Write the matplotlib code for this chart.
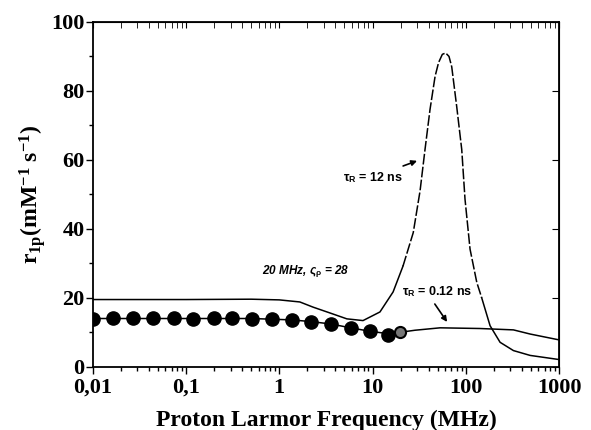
import matplotlib
matplotlib.use("Agg")
import matplotlib.pyplot as plt
from matplotlib.ticker import NullFormatter, MultipleLocator

# measured relaxivities (filled circles, last one open)
freq_pts = [0.01, 0.0165, 0.027, 0.044, 0.075, 0.12, 0.2, 0.31, 0.51, 0.83,
            1.36, 2.2, 3.6, 5.8, 9.4, 14.7]
r1_pts = [14.0, 14.1, 14.1, 14.1, 14.1, 13.9, 14.1, 14.1, 14.0, 13.9,
          13.6, 13.1, 12.4, 11.3, 10.3, 9.3]
freq_open = [19.7]
r1_open = [10.0]

# fitted curve, tau_R = 0.12 ns
freq_fit = [0.01, 0.1, 0.5, 1.36, 2.2, 3.6, 5.8, 9.4, 14.7, 19.7, 28.5, 53, 142, 324, 489, 1000]
r1_fit = [14.0, 14.0, 14.0, 13.6, 13.1, 12.4, 11.3, 10.3, 9.6, 10.0, 10.6, 11.3, 11.1, 10.7, 9.5, 7.8]

# calculated curve, tau_R = 12 ns
freq_12 = [0.01, 0.1, 0.5, 1.0, 1.66, 2.3, 3.5, 5.3, 7.9, 12, 16.6, 21.2, 27.3, 32.3,
           36.5, 41.3, 46.8, 51, 56, 60.8, 66, 70.6, 79.8, 90.4, 98, 111, 131, 148, 182,
           233, 324, 489, 1000]
r1_12 = [19.5, 19.5, 19.6, 19.4, 18.8, 17.3, 15.6, 13.9, 13.4, 15.9, 21.7, 29.2, 38.9, 51,
         63, 74.6, 84.2, 88.2, 90.6, 91, 90, 87, 75.5, 63, 48.6, 34.1, 24.5, 20, 11.9,
         7.1, 4.7, 3.3, 2.1]

plt.rcParams['mathtext.fontset'] = 'custom'
plt.rcParams['mathtext.rm'] = 'Liberation Serif:bold'
plt.rcParams['mathtext.bf'] = 'Liberation Serif:bold'
plt.rcParams['mathtext.it'] = 'Liberation Serif:italic:bold'
plt.rcParams['mathtext.sf'] = 'Liberation Sans:bold'

fig = plt.figure(figsize=(5.91, 4.30), dpi=100)
ax = fig.add_axes([0.157, 0.147, 0.789, 0.802])

# 12 ns curve: solid on the flat parts, dashed across the peak (as in the scan)
a, b = 11, 27
ax.plot(freq_12[:a + 1], r1_12[:a + 1], color='black', lw=1.1)
ax.plot(freq_12[a:b + 1], r1_12[a:b + 1], color='black', lw=1.1, dashes=(7, 1.5))
ax.plot(freq_12[b:], r1_12[b:], color='black', lw=1.1)
ax.plot(freq_fit, r1_fit, color='black', lw=1.1)
ax.plot(freq_pts, r1_pts, 'o', color='black', ms=9.5)
ax.plot(freq_open, r1_open, 'o', mfc='#777777', mec='black', mew=1.5, ms=8)

ax.set_xscale('log')
ax.set_xlim(0.01, 1000)
ax.set_ylim(0, 100)

serif = {'family': 'Liberation Serif', 'weight': 'bold'}
ax.set_xticks([0.01, 0.1, 1, 10, 100, 1000])
ax.set_xticklabels(['0,01', '0,1', '1', '10', '100', '1000'], fontdict=serif, fontsize=16)
ax.xaxis.set_minor_formatter(NullFormatter())
ax.set_yticks([0, 20, 40, 60, 80, 100])
ax.set_yticklabels(['0', '20', '40', '60', '80', '100'], fontdict=serif, fontsize=16)
ax.yaxis.set_minor_locator(MultipleLocator(10))

ax.tick_params(axis='both', which='major', direction='out', length=5, width=1, pad=1)
ax.tick_params(axis='x', which='major', pad=3)
ax.tick_params(axis='both', which='minor', direction='out', length=3, width=1)

# top and right ticks point inward
top = ax.secondary_xaxis('top')
top.set_xticks([0.01, 0.1, 1, 10, 100, 1000])
top.xaxis.set_major_formatter(NullFormatter())
top.xaxis.set_minor_formatter(NullFormatter())
top.tick_params(which='both', direction='in', length=4)
right = ax.secondary_yaxis('right')
right.set_yticks([0, 20, 40, 60, 80, 100])
right.yaxis.set_major_formatter(NullFormatter())
right.tick_params(which='both', direction='in', length=5)

for s in ax.spines.values():
    s.set_linewidth(1.3)

ax.set_xlabel('Proton Larmor Frequency (MHz)', fontdict=serif, fontsize=17)
ax.xaxis.set_label_coords(0.5, -0.125)
ax.set_ylabel(r'r$_\mathrm{1p}$(mM$^\mathrm{-1}$ s$^\mathrm{-1}$)', fontdict=serif,
              fontsize=17, labelpad=2)

sans = {'family': 'Liberation Sans', 'weight': 'bold'}
ax.annotate(r'τ$_\mathsf{R}$ = 12 ns', xy=(32, 60), xytext=(4.8, 55), va='center',
            fontsize=9, **sans,
            arrowprops=dict(arrowstyle='-|>', color='black', lw=1.2, mutation_scale=8))
ax.text(20.6, 21.7, r'τ$_\mathsf{R}$ = 0.12 ns', va='center', fontsize=9, **sans)
ax.annotate('', xy=(63, 13), xytext=(46.5, 18.2),
            arrowprops=dict(arrowstyle='-|>', color='black', lw=1.2, mutation_scale=8,
                            shrinkA=0, shrinkB=0))
ax.text(0.65, 27.7, r'20 MHz, ς$_\mathsf{ρ}$ = 28', va='center', fontsize=8.5,
        style='italic', **sans)

fig.savefig('out.png', dpi=100)
